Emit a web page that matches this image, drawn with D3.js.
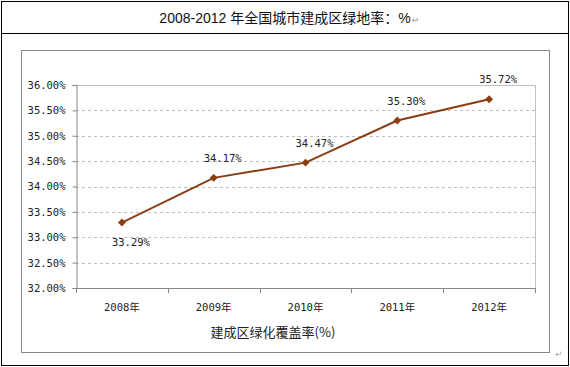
<!DOCTYPE html>
<html>
<head>
<meta charset="utf-8">
<script src="https://cdn.jsdelivr.net/npm/d3@7"></script>
<style>
  html, body { margin: 0; padding: 0; background: #fff; }
  svg { display: block; }
</style>
</head>
<body>
<svg id="chart" width="570" height="367"></svg>
<script>
// ---- data ----
const years = ["2008年", "2009年", "2010年", "2011年", "2012年"];
const rates = [33.29, 34.17, 34.47, 35.30, 35.72];
const yTicks = [32, 32.5, 33, 33.5, 34, 34.5, 35, 35.5, 36];
const titleText = "2008-2012 年全国城市建成区绿地率：%";
const axisTitle = "建成区绿化覆盖率(%)";

const svg = d3.select("#chart");
const monoFont = "'DejaVu Sans Mono', 'Noto Sans CJK SC', monospace";
const cjkFont = "'Liberation Sans', 'Noto Sans CJK SC', sans-serif";

// ---- document table frame ----
svg.append("rect").attr("x", 1.5).attr("y", 1.5).attr("width", 567).attr("height", 364)
  .attr("fill", "none").attr("stroke", "#000").attr("stroke-width", 1);
svg.append("line").attr("x1", 1.5).attr("x2", 568.5).attr("y1", 33.5).attr("y2", 33.5)
  .attr("stroke", "#000");

// title
const title = svg.append("text").attr("x", 285).attr("y", 23.3)
  .attr("text-anchor", "middle").attr("font-family", cjkFont).attr("font-size", 14)
  .attr("fill", "#111").text(titleText);
const tb = title.node().getBBox();
svg.append("text").attr("x", tb.x + tb.width + 1).attr("y", 22.5)
  .attr("font-family", "'DejaVu Sans', sans-serif").attr("font-size", 9)
  .attr("fill", "#999").text("↵");

// chart area
svg.append("rect").attr("x", 21.5).attr("y", 50.5).attr("width", 528).attr("height", 302)
  .attr("fill", "#fff").attr("stroke", "#868686").attr("stroke-width", 1);
svg.append("text").attr("x", 555).attr("y", 357)
  .attr("font-family", "'DejaVu Sans', sans-serif").attr("font-size", 9)
  .attr("fill", "#aaa").text("↵");

// ---- plot ----
const pLeft = 76, pRight = 535, pTop = 85, pBottom = 288;
const x = d3.scaleBand().domain(years).range([pLeft, pRight]).padding(0);
const y = d3.scaleLinear().domain([32, 36]).range([pBottom, pTop]);

// gridlines
svg.append("g").selectAll("line").data(yTicks.filter(t => t > 32 && t < 36)).join("line")
  .attr("x1", pLeft).attr("x2", pRight)
  .attr("y1", d => Math.round(y(d)) + 0.5).attr("y2", d => Math.round(y(d)) + 0.5)
  .attr("stroke", "#c0c0c0").attr("stroke-dasharray", "3,3");

// plot border top/right
svg.append("path")
  .attr("d", `M${pLeft},${pTop + 0.5}H${pRight + 0.5}V${pBottom}`)
  .attr("fill", "none").attr("stroke", "#c0c0c0");

// y axis
const yAxis = d3.axisLeft(y).tickValues(yTicks).tickSize(4).tickPadding(7)
  .tickFormat(d => d.toFixed(2) + "%");
const gy = svg.append("g").attr("transform", `translate(${pLeft + 0.5},0)`).call(yAxis);
gy.select(".domain").attr("stroke", "#868686");
gy.selectAll(".tick line").attr("stroke", "#868686");
gy.selectAll(".tick text").attr("font-family", monoFont).attr("font-size", 10.5).attr("fill", "#222");

// x axis line + boundary ticks
svg.append("line").attr("x1", pLeft).attr("x2", pRight + 0.5)
  .attr("y1", pBottom + 0.5).attr("y2", pBottom + 0.5).attr("stroke", "#868686");
const bounds = years.map(c => x(c)).concat([x(years[years.length - 1]) + x.bandwidth()]);
svg.append("g").selectAll("line").data(bounds).join("line")
  .attr("x1", d => Math.round(d) + 0.5).attr("x2", d => Math.round(d) + 0.5)
  .attr("y1", pBottom).attr("y2", pBottom + 5).attr("stroke", "#868686");
svg.append("g").selectAll("text").data(years).join("text")
  .attr("x", d => x(d) + x.bandwidth() / 2).attr("y", 311)
  .attr("text-anchor", "middle").attr("font-family", monoFont).attr("font-size", 10.5)
  .attr("fill", "#222").text(d => d);

// axis title
svg.append("text").attr("x", 273).attr("y", 336.5).attr("text-anchor", "middle")
  .attr("font-family", "'Noto Sans CJK SC', sans-serif").attr("font-size", 13)
  .attr("fill", "#222").text(axisTitle);

// line
const pts = years.map((c, i) => [x(c) + x.bandwidth() / 2, y(rates[i])]);
svg.append("path").datum(pts)
  .attr("d", d3.line())
  .attr("fill", "none").attr("stroke", "#8a3c12").attr("stroke-width", 2);

// markers
svg.append("g").selectAll("path").data(pts).join("path")
  .attr("transform", d => `translate(${d[0]},${d[1]})`)
  .attr("d", d3.symbol(d3.symbolDiamond2, 40))
  .attr("fill", "#8a3c12");

// data labels
svg.append("g").selectAll("text").data(rates).join("text")
  .attr("x", (d, i) => pts[i][0] + 9)
  .attr("y", (d, i) => i === 0 ? pts[i][1] + 23 : pts[i][1] - 16)
  .attr("text-anchor", "middle").attr("font-family", monoFont).attr("font-size", 10.5)
  .attr("fill", "#222").text(d => d.toFixed(2) + "%");
</script>
</body>
</html>
